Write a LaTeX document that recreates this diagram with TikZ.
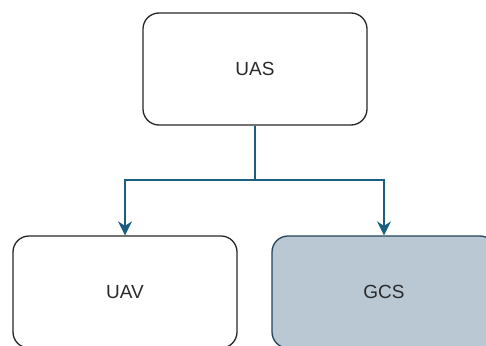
\documentclass[tikz,border=0pt]{standalone}
\usepackage{fontspec}
\setmainfont{Liberation Sans}
\usetikzlibrary{arrows.meta}
\definecolor{edgecol}{HTML}{1B5E80}
\definecolor{gcsfill}{HTML}{BAC8D3}
\definecolor{gcsline}{HTML}{23445D}
\definecolor{txt}{HTML}{2A2A2A}
\tikzset{
  box/.style={draw=black!85, line width=1.3pt, rounded corners=16pt, minimum width=224pt, minimum height=112pt, inner sep=0pt, font=\fontsize{19}{22}\selectfont, text=txt},
  gcsbox/.style={box, fill=gcsfill, draw=gcsline},
  conn/.style={draw=edgecol, line width=1.4pt, -{Stealth[length=14pt,width=14pt,inset=4.5pt]}}
}
\begin{document}
\begin{tikzpicture}[x=1pt,y=-1pt]
\useasboundingbox (0,0) rectangle (486,345);
\clip (0,0) rectangle (486,345);
\node[box] (uas) at (255,69) {UAS};
\node[box] (uav) at (125,292) {UAV};
\node[gcsbox] (gcs) at (384,292) {GCS};
\coordinate (j) at (255,180);
\draw[conn] (uas.south) -- (j) -| (uav.north);
\draw[conn] (j) -| (gcs.north);
\end{tikzpicture}
\end{document}
